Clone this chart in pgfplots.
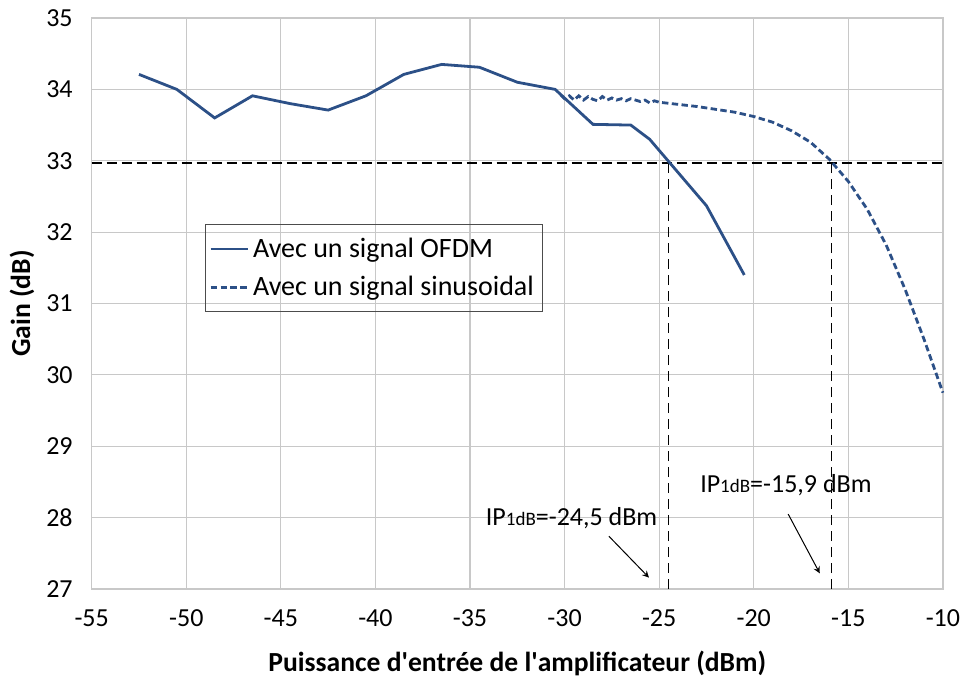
\documentclass[border=0pt]{standalone}
\usepackage{fontspec}
\setmainfont{Carlito}
\usepackage{pgfplots}
\pgfplotsset{compat=1.18}
\definecolor{serblue}{RGB}{44,80,135}
\definecolor{gridgray}{RGB}{200,200,200}
\begin{document}
\begin{tikzpicture}
\useasboundingbox (0,0) rectangle (480.5pt,338.5pt);
\begin{axis}[
  at={(45.85pt,44pt)}, anchor=south west,
  scale only axis,
  width=425.6pt, height=285.5pt,
  xmin=-55, xmax=-10, ymin=27, ymax=35,
  xtick={-55,-50,...,-10}, ytick={27,28,...,35},
  grid=major,
  major grid style={gridgray, line width=0.6pt},
  axis line style={gridgray, line width=0.6pt},
  major tick length=0pt,
  tick label style={font=\fontsize{13}{15}\selectfont},
  /pgf/number format/assume math mode=true,
  xticklabel style={yshift=-7pt},
  yticklabel style={xshift=-6pt},
  xlabel={\textbf{Puissance d\textquotesingle entrée de l\textquotesingle amplificateur (dBm)}},
  ylabel={\textbf{Gain (dB)}},
  label style={font=\fontsize{13.8}{15}\selectfont},
  xlabel style={at={(axis description cs:0.5,-0.13)}, anchor=center},
  ylabel style={at={(axis description cs:-0.082,0.5)}, anchor=center},
  legend style={at={(0.133,0.6386)}, anchor=north west, fill=none, draw=black!70,
    font=\fontsize{14}{16}\selectfont, row sep=4pt,
    inner xsep=2pt, inner ysep=4.5pt},
  legend cell align=left,
  legend image code/.code={\draw[#1, line width=1.4pt] (0pt,0pt) -- (18.5pt,0pt);},
  clip=false,
]
% reference lines
\addplot[black, line width=0.7pt, dash pattern=on 5pt off 2.5pt, forget plot]
  coordinates {(-55,32.97) (-10,32.97)};
\addplot[black, line width=0.6pt, dash pattern=on 5pt off 3pt, forget plot]
  coordinates {(-24.5,27) (-24.5,32.97)};
\addplot[black, line width=0.6pt, dash pattern=on 5pt off 3pt, forget plot]
  coordinates {(-15.9,27) (-15.9,32.97)};
% OFDM
\addplot[serblue, line width=1.4pt] coordinates {
(-52.5,34.21) (-50.5,34.0) (-48.5,33.6) (-46.5,33.91) (-44.5,33.8)
(-42.5,33.71) (-40.5,33.91) (-38.5,34.21) (-36.5,34.35) (-34.5,34.31)
(-32.5,34.1) (-30.5,34.0) (-28.5,33.51) (-26.5,33.5) (-25.5,33.3)
(-24.5,32.99) (-22.5,32.37) (-20.5,31.4)
};
\addlegendentry{Avec un signal OFDM}
% sinusoidal
\addplot[serblue, line width=1.4pt, dash pattern=on 3.2pt off 1.7pt] coordinates {
(-30.2,33.92) (-30,33.87) (-29.75,33.91) (-29.5,33.85) (-29.25,33.91)
(-29,33.85) (-28.75,33.90) (-28.5,33.86) (-28.25,33.84) (-28,33.90)
(-27.75,33.85) (-27.5,33.88) (-27.25,33.85) (-27,33.87) (-26.75,33.84)
(-26.5,33.87) (-26,33.83) (-25.75,33.85) (-25.5,33.81) (-25.25,33.84)
(-25,33.82) (-24,33.79) (-23,33.76) (-22,33.72) (-21,33.68) (-20,33.62)
(-19,33.54) (-18,33.42) (-17,33.26) (-16,33.02) (-15,32.71) (-14,32.32)
(-13,31.82) (-12,31.2) (-11,30.5) (-10,29.75)
};
\addlegendentry{Avec un signal sinusoidal}
% annotations
\node[font=\fontsize{13}{15}\selectfont] at (axis cs:-29.63,27.99)
  {IP{\fontsize{9.5}{11}\selectfont 1dB}=-24,5 dBm};
\node[font=\fontsize{13}{15}\selectfont] at (axis cs:-18.3,28.46)
  {IP{\fontsize{9.5}{11}\selectfont 1dB}=-15,9 dBm};
\draw[-stealth, black, line width=0.5pt] (axis cs:-27.66,27.74) -- (axis cs:-25.54,27.16);
\draw[-stealth, black, line width=0.5pt] (axis cs:-18.18,28.05) -- (axis cs:-16.51,27.22);
\end{axis}
\end{tikzpicture}
\end{document}
